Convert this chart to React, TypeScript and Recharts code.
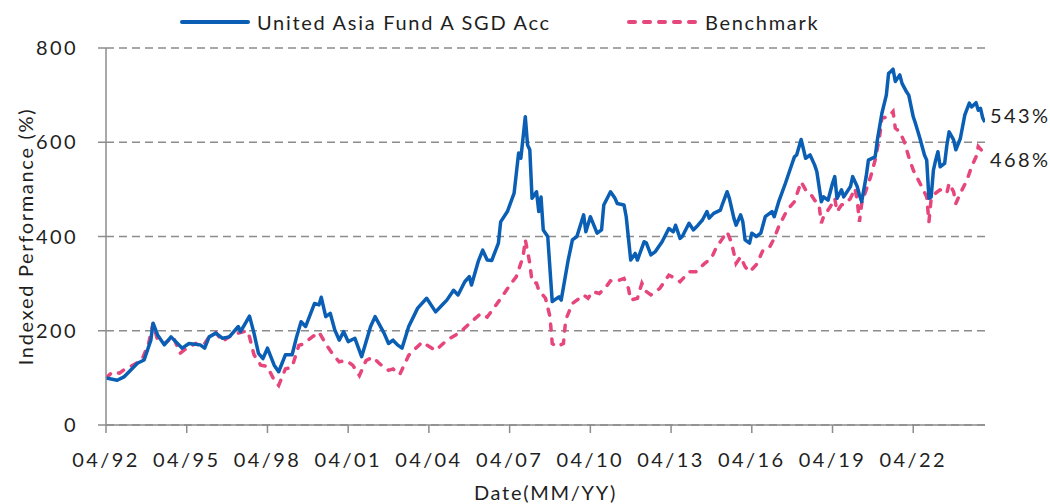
import React from "react";
import { LineChart, Line, XAxis, YAxis, CartesianGrid, Label } from "recharts";

const fundDates = [
  "1992-04","1992-09","1992-12","1993-06","1993-09","1993-12","1994-01","1994-03","1994-06","1994-09",
  "1995-02","1995-05","1995-10","1995-12","1996-02","1996-05","1996-08","1996-11","1997-03","1997-04",
  "1997-08","1997-10","1997-12","1998-02","1998-04","1998-07","1998-09","1998-12","1999-03","1999-05",
  "1999-07","1999-09","2000-01","2000-03","2000-04","2000-06","2000-08","2000-10","2000-12","2001-02",
  "2001-04","2001-07","2001-10","2002-02","2002-04","2002-08","2002-10","2002-12","2003-02","2003-04",
  "2003-07","2003-11","2004-03","2004-07","2004-10","2004-12","2005-03","2005-05","2005-08","2005-10",
  "2005-11","2006-02","2006-04","2006-06","2006-08","2006-11","2006-12","2007-03","2007-06","2007-08",
  "2007-09","2007-11","2007-12","2008-01","2008-02","2008-04","2008-05","2008-06","2008-07","2008-09",
  "2008-11","2009-02","2009-03","2009-06","2009-08","2009-10","2010-01","2010-02","2010-04","2010-07",
  "2010-09","2010-10","2011-01","2011-03","2011-04","2011-07","2011-08","2011-10","2011-12","2012-01",
  "2012-04","2012-05","2012-07","2012-09","2012-12","2013-03","2013-05","2013-06","2013-08","2013-09",
  "2013-12","2014-02","2014-04","2014-06","2014-08","2014-09","2014-11","2015-02","2015-03","2015-05",
  "2015-06","2015-08","2015-09","2015-11","2015-12","2016-01","2016-03","2016-04","2016-06","2016-08",
  "2016-10","2017-01","2017-02","2017-04","2017-07","2017-09","2017-11","2017-12","2018-02","2018-04",
  "2018-06","2018-08","2018-09","2018-11","2018-12","2019-02","2019-04","2019-05","2019-06","2019-08",
  "2019-09","2019-12","2020-01","2020-03","2020-04","2020-05","2020-07","2020-08","2020-11","2020-12",
  "2021-02","2021-04","2021-05","2021-06","2021-07","2021-08","2021-10","2021-11","2022-01","2022-02",
  "2022-04","2022-05","2022-07","2022-09","2022-10","2022-11","2022-12","2023-01","2023-02","2023-03",
  "2023-04","2023-06","2023-07","2023-08","2023-10","2023-11","2024-01","2024-03","2024-05","2024-06",
  "2024-08","2024-09","2024-10","2024-11","2024-12",
];
const fundValues = [
  100,95,102,131,138,180,216,191,170,187,
  163,173,170,163,187,195,184,187,209,198,
  231,195,152,141,163,127,113,149,149,187,
  219,209,258,255,271,230,237,202,180,198,
  177,184,145,209,230,195,173,180,170,163,
  209,248,269,240,255,265,286,276,304,315,
  297,347,371,350,349,386,431,453,492,577,
  566,654,594,584,481,495,453,484,414,400,
  262,272,265,347,393,400,446,410,442,407,
  414,467,495,481,470,467,442,350,364,350,
  389,386,361,368,389,417,410,424,396,400,
  428,414,424,435,453,439,449,456,470,495,
  481,439,424,446,431,393,386,407,400,407,
  442,453,442,474,513,541,569,573,606,566,
  573,552,538,474,484,477,513,527,481,499,
  484,506,527,506,488,474,527,562,569,605,
  661,700,746,750,755,729,743,725,707,700,
  654,640,608,573,562,481,484,541,562,580,
  548,555,594,622,605,584,608,658,683,675,
  684,668,672,651,643,
];

const benchDates = [
  "1992-04","1992-07","1992-10","1992-12","1993-04","1993-08","1993-11","1994-01","1994-03","1994-06",
  "1994-10","1995-01","1995-04","1995-08","1995-11","1996-02","1996-05","1996-08","1996-12","1997-07",
  "1997-08","1997-10","1998-01","1998-04","1998-07","1998-09","1998-12","1999-03","1999-06","1999-08",
  "1999-12","2000-03","2000-06","2000-09","2000-12","2001-03","2001-06","2001-09","2001-12","2002-03",
  "2002-06","2002-10","2002-12","2003-03","2003-07","2004-01","2004-07","2004-12","2005-06","2005-10",
  "2006-03","2006-06","2006-12","2007-04","2007-07","2007-10","2007-11","2008-01","2008-02","2008-04",
  "2008-05","2008-08","2008-10","2008-11","2009-01","2009-04","2009-05","2009-08","2009-10","2010-01",
  "2010-03","2010-05","2010-08","2010-11","2011-01","2011-03","2011-07","2011-09","2011-10","2012-01",
  "2012-03","2012-05","2012-07","2012-11","2013-03","2013-06","2013-08","2013-12","2014-03","2014-07",
  "2014-10","2014-12","2015-03","2015-05","2015-07","2015-09","2015-11","2016-01","2016-03","2016-06",
  "2016-09","2016-12","2017-02","2017-04","2017-07","2017-09","2017-11","2018-02","2018-04","2018-06",
  "2018-08","2018-10","2018-11","2018-12","2019-03","2019-05","2019-06","2019-08","2019-10","2019-12",
  "2020-02","2020-03","2020-04","2020-05","2020-07","2020-09","2020-11","2021-01","2021-02","2021-05",
  "2021-07","2021-08","2021-10","2021-12","2022-02","2022-04","2022-07","2022-10","2022-11","2022-12",
  "2023-02","2023-04","2023-07","2023-08","2023-10","2023-11","2024-01","2024-04","2024-06","2024-08",
  "2024-09","2024-11","2024-12",
];
const benchValues = [
  100,113,110,117,127,138,173,216,180,173,
  187,152,163,173,166,187,196,177,191,200,
  187,149,127,124,95,84,119,123,169,172,
  187,197,172,151,134,137,127,105,137,144,
  130,116,119,107,148,176,158,180,197,215,
  236,229,268,296,315,357,393,343,304,301,
  286,269,230,173,166,173,223,258,265,276,
  269,283,279,293,306,304,311,290,265,269,
  301,283,276,290,318,311,304,325,325,343,
  354,375,396,410,386,343,357,336,325,340,
  371,378,396,421,449,463,474,516,499,492,
  477,467,428,442,463,481,453,467,470,481,
  502,477,431,470,499,527,562,612,651,654,
  665,630,622,601,569,541,513,484,431,481,
  492,499,492,513,495,470,492,520,548,569,
  591,580,568,
];

const xTickLabels = ["04/92","04/95","04/98","04/01","04/04","04/07","04/10","04/13","04/16","04/19","04/22"];
const yTicks = [0, 200, 400, 600, 800];
const seriesNames = ["United Asia Fund A SGD Acc", "Benchmark"];
const endLabels = ["543%", "468%"];

const toT = (d: string) => {
  const [y, m] = d.split("-").map(Number);
  return y + (m - 1) / 12;
};
const labelToT = (l: string) => {
  const [m, yy] = l.split("/").map(Number);
  const y = yy > 50 ? 1900 + yy : 2000 + yy;
  return y + (m - 1) / 12;
};
const fmtTick = (t: number) => {
  const y = Math.floor(t + 1e-6);
  const m = Math.round((t - y) * 12) + 1;
  return `${String(m).padStart(2, "0")}/${String(y % 100).padStart(2, "0")}`;
};

const fundData = fundDates.map((d, i) => ({ t: toT(d), v: fundValues[i] }));
const benchData = benchDates.map((d, i) => ({ t: toT(d), v: benchValues[i] }));
const xTicks = xTickLabels.map(labelToT);

const BLUE = "#0a5fb5";
const PINK = "#e6467c";
const GRID = "#8c8c8c";
const TEXT = "#1f1f1f";
const FONT = "Lato, 'Open Sans', sans-serif";
const NUM_LS = 2.4;
const WORD_LS = 1.7;

const endLabel = (text: string, lastIdx: number, dy: number) => (props: any) => {
  if (props.index !== lastIdx) return null;
  return (
    <text x={props.x + 5} y={props.y + dy} fill={TEXT} fontSize={20} fontFamily={FONT} letterSpacing={NUM_LS} dominantBaseline="central">
      {text}
    </text>
  );
};

export default function App() {
  return (
    <div style={{ position: "absolute", left: 0, top: 0, width: 1050, height: 504, background: "#fff", fontFamily: FONT }}>
      <LineChart width={1050} height={504} margin={{ top: 48, right: 65, bottom: 0, left: 0 }}>
        <CartesianGrid horizontal vertical={false} stroke={GRID} strokeDasharray="8 5" strokeWidth={1.5} />
        <XAxis
          dataKey="t"
          type="number"
          domain={[labelToT("04/92"), toT("2024-12")]}
          ticks={xTicks}
          tickFormatter={fmtTick}
          allowDataOverflow
          height={79}
          tickSize={8}
          tickMargin={20}
          stroke={GRID}
          strokeWidth={1.5}
          tick={{ fill: TEXT, fontSize: 20, fontFamily: FONT, letterSpacing: NUM_LS }}
        >
          <Label
            content={(p: any) => (
              <text x={p.viewBox.x + p.viewBox.width / 2} y={492} textAnchor="middle" dominantBaseline="central" fill={TEXT} fontSize={20} fontFamily={FONT} letterSpacing={WORD_LS}>
                Date(MM/YY)
              </text>
            )}
          />
        </XAxis>
        <YAxis
          type="number"
          domain={[0, 800]}
          ticks={yTicks}
          width={106}
          tickSize={8}
          tickMargin={20}
          stroke={GRID}
          strokeWidth={1.5}
          tick={{ fill: TEXT, fontSize: 20, fontFamily: FONT, letterSpacing: NUM_LS }}
        >
          <Label
            content={(p: any) => {
              const cx = 25;
              const cy = p.viewBox.y + p.viewBox.height / 2;
              return (
                <text x={cx} y={cy} transform={`rotate(-90, ${cx}, ${cy})`} textAnchor="middle" dominantBaseline="central" fill={TEXT} fontSize={20} fontFamily={FONT} letterSpacing={WORD_LS}>
                  Indexed Performance (%)
                </text>
              );
            }}
          />
        </YAxis>
        <Line
          data={benchData}
          dataKey="v"
          name={seriesNames[1]}
          type="linear"
          stroke={PINK}
          strokeWidth={3.5}
          strokeDasharray="6 9"
          strokeLinecap="round"
          dot={false}
          isAnimationActive={false}
          label={endLabel(endLabels[1], benchData.length - 1, 2)}
        />
        <Line
          data={fundData}
          dataKey="v"
          name={seriesNames[0]}
          type="linear"
          stroke={BLUE}
          strokeWidth={3.5}
          strokeLinejoin="round"
          dot={false}
          isAnimationActive={false}
          label={endLabel(endLabels[0], fundData.length - 1, -7)}
        />
      </LineChart>
      <div style={{ position: "absolute", left: 180, top: 8, height: 28, display: "flex", alignItems: "center", color: TEXT, fontSize: 20, fontFamily: FONT, letterSpacing: WORD_LS, whiteSpace: "nowrap" }}>
        <svg width={70} height={10} style={{ marginRight: 7 }}>
          <line x1={2} y1={5} x2={68} y2={5} stroke={BLUE} strokeWidth={4} strokeLinecap="round" />
        </svg>
        <span>{seriesNames[0]}</span>
      </div>
      <div style={{ position: "absolute", left: 627, top: 8, height: 28, display: "flex", alignItems: "center", color: TEXT, fontSize: 20, fontFamily: FONT, letterSpacing: WORD_LS, whiteSpace: "nowrap" }}>
        <svg width={72} height={10} style={{ marginRight: 6 }}>
          <line x1={2} y1={5} x2={70} y2={5} stroke={PINK} strokeWidth={4} strokeDasharray="6 9" strokeLinecap="round" />
        </svg>
        <span>{seriesNames[1]}</span>
      </div>
    </div>
  );
}
